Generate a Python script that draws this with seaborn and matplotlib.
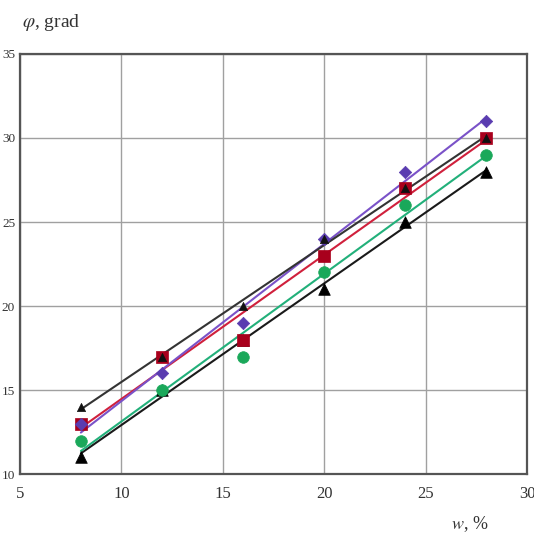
import numpy as np
import pandas as pd
import matplotlib
matplotlib.use("Agg")
import matplotlib.pyplot as plt
import seaborn as sns

# moisture content, %
w = [8, 12, 16, 20, 24, 28]

# angle of internal friction for each sample, grad
phi_a = [14, 17, 20, 24, 27, 30]
phi_b = [13, 16, 19, 24, 28, 31]
phi_c = [13, 17, 18, 23, 27, 30]
phi_d = [12, 15, 17, 22, 26, 29]
phi_e = [11, 15, 18, 21, 25, 28]

x_ticks = [5, 10, 15, 20, 25, 30]
y_ticks = [10, 15, 20, 25, 30, 35]

series = [
    # values, marker, marker size, marker colour, line colour
    (phi_e, "^", 70, "#000000", "#1a1a1a"),
    (phi_d, "o", 70, "#1aa85a", "#22b07a"),
    (phi_c, "s", 65, "#a8001c", "#d0203c"),
    (phi_b, "D", 40, "#5a3cb0", "#7a52c8"),
    (phi_a, "^", 35, "#111111", "#333333"),
]

sns.set_style("white")
plt.rcParams["font.family"] = ["Liberation Serif", "DejaVu Serif"]
plt.rcParams["mathtext.fontset"] = "stix"

fig = plt.figure(figsize=(5.34, 5.34), dpi=100)
ax = fig.add_axes([0.0375, 0.112, 0.9495, 0.787])

for vals, mk, ms, mc, lc in series:
    df = pd.DataFrame({"w": w, "phi": vals})
    sns.regplot(data=df, x="w", y="phi", ax=ax, scatter=False, ci=None,
                line_kws={"color": lc, "lw": 1.5, "zorder": 3})
for vals, mk, ms, mc, lc in series:
    df = pd.DataFrame({"w": w, "phi": vals})
    sns.scatterplot(data=df, x="w", y="phi", ax=ax, marker=mk, s=ms,
                    color=mc, edgecolor=mc, linewidth=0.5, zorder=4)

ax.set_xlim(5, 30)
ax.set_ylim(10, 35)
ax.set_xticks(x_ticks)
ax.set_yticks(y_ticks)
ax.set_xticklabels([str(t) for t in x_ticks])
ax.set_yticklabels([str(t) for t in y_ticks])
ax.grid(True, color="#a0a0a0", lw=1.0)
ax.set_axisbelow(True)
for sp in ax.spines.values():
    sp.set_color("#555555")
    sp.set_linewidth(1.6)
ax.tick_params(axis="both", direction="inout", length=5, width=1.0,
               color="#555555", labelcolor="#333333")
ax.tick_params(axis="x", pad=6, labelsize=12)
ax.tick_params(axis="y", pad=1, labelsize=9.5)
ax.set_xlabel("")
ax.set_ylabel("")

fig.text(0.041, 0.957, r"$\varphi$, grad", fontsize=14, color="#333333",
         ha="left", va="center")
fig.text(0.88, 0.018, r"$w$, %", fontsize=13, color="#333333",
         ha="center", va="center")

fig.savefig("out.png", dpi=100, facecolor="white")
